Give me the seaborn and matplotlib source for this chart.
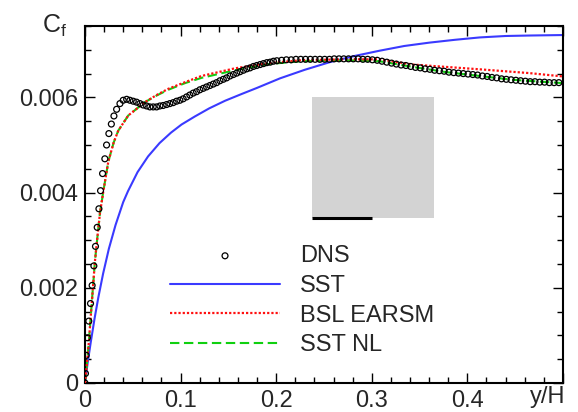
import matplotlib
matplotlib.use("Agg")
import matplotlib.pyplot as plt
import seaborn as sns
import pandas as pd
from matplotlib.patches import Rectangle
from matplotlib.ticker import MultipleLocator

# ---------------- data ----------------
dns_x = [0.0, 0.0005, 0.0012, 0.0025, 0.004, 0.0058, 0.0075, 0.0093, 0.011, 0.0128,
         0.0146, 0.0163, 0.0184, 0.0208, 0.0226, 0.0250, 0.0276, 0.0303, 0.0331,
         0.0366, 0.0400, 0.0436, 0.0470, 0.0505, 0.0540, 0.0575, 0.0609, 0.0645,
         0.0679, 0.0714, 0.0749, 0.0784, 0.0818, 0.0854, 0.0888, 0.0923, 0.0958,
         0.0993, 0.1027, 0.1063, 0.1097, 0.1132, 0.1167, 0.1202, 0.1237, 0.1272,
         0.1307, 0.1342, 0.1377, 0.1412, 0.1447, 0.1482, 0.1517, 0.1552, 0.1587,
         0.1622, 0.1657, 0.1692, 0.1727, 0.1762, 0.1797, 0.1832, 0.1867, 0.1902,
         0.1937, 0.1972, 0.2007, 0.2057, 0.2107, 0.2157, 0.2207, 0.2257, 0.2307,
         0.2357, 0.2407, 0.2457, 0.2507, 0.2557, 0.2607, 0.2657, 0.2707, 0.2757,
         0.2807, 0.2857, 0.2907, 0.2957, 0.3007, 0.3057, 0.3107, 0.3157, 0.3207,
         0.3257, 0.3307, 0.3357, 0.3407, 0.3457, 0.3507, 0.3557, 0.3607, 0.3657,
         0.3707, 0.3757, 0.3807, 0.3857, 0.3907, 0.3957, 0.4007, 0.4057, 0.4107,
         0.4157, 0.4207, 0.4257, 0.4307, 0.4357, 0.4407, 0.4457, 0.4507, 0.4557,
         0.4607, 0.4657, 0.4707, 0.4757, 0.4807, 0.4857, 0.4907, 0.4957]
dns_cf = [0.0, 0.0002, 0.00058, 0.00095, 0.0013, 0.00167, 0.00205, 0.00246, 0.00287, 0.00327,
          0.00366, 0.00404, 0.0044, 0.00471, 0.005, 0.00524, 0.00544, 0.00561, 0.00575,
          0.00587, 0.00594, 0.00596, 0.00594, 0.00592, 0.0059, 0.00587, 0.00584, 0.00582,
          0.0058, 0.0058, 0.0058, 0.00582, 0.00583, 0.00585, 0.00587, 0.00589, 0.00592,
          0.00594, 0.00597, 0.00601, 0.00605, 0.00609, 0.00612, 0.00616, 0.00619, 0.00622,
          0.00625, 0.00628, 0.00631, 0.00635, 0.00638, 0.00641, 0.00645, 0.00648, 0.00651,
          0.00654, 0.00657, 0.0066, 0.00662, 0.00665, 0.00667, 0.00669, 0.00671, 0.00673,
          0.00674, 0.00676, 0.00677, 0.00678, 0.00679, 0.00679, 0.0068, 0.0068, 0.0068,
          0.0068, 0.0068, 0.0068, 0.0068, 0.0068, 0.00681, 0.00681, 0.00681, 0.00681,
          0.00681, 0.00681, 0.0068, 0.0068, 0.00679, 0.00678, 0.00676, 0.00674, 0.00672,
          0.0067, 0.00668, 0.00667, 0.00665, 0.00663, 0.00662, 0.0066, 0.00659, 0.00657,
          0.00656, 0.00655, 0.00653, 0.00652, 0.00651, 0.0065, 0.00649, 0.00648, 0.00647,
          0.00645, 0.00644, 0.00642, 0.00641, 0.00639, 0.00638, 0.00637, 0.00636, 0.00635,
          0.00634, 0.00633, 0.00633, 0.00632, 0.00632, 0.00631, 0.00631, 0.00631]

sst_x = [0.0, 0.003, 0.006, 0.010, 0.014, 0.019, 0.025, 0.032, 0.040, 0.045, 0.055,
         0.066, 0.078, 0.090, 0.101, 0.115, 0.130, 0.1466, 0.1637, 0.180, 0.204,
         0.2299, 0.256, 0.282, 0.308, 0.334, 0.360, 0.387, 0.413, 0.440, 0.465, 0.500]
sst_cf = [0.0, 0.00045, 0.00085, 0.00135, 0.0018, 0.0023, 0.00282, 0.00332, 0.0038, 0.00403,
          0.00443, 0.00476, 0.00504, 0.00526, 0.00543, 0.0056, 0.00577, 0.00593, 0.00607,
          0.0062, 0.0064, 0.00658, 0.00674, 0.00687, 0.00698, 0.00708, 0.00715, 0.00721,
          0.00726, 0.00729, 0.0073, 0.00731]

bsl_x = [0.0, 0.002, 0.004, 0.007, 0.0104, 0.0137, 0.0157, 0.019, 0.0244, 0.03, 0.0348,
         0.0453, 0.0627, 0.075, 0.0871, 0.1047, 0.1219, 0.1567, 0.1916, 0.2264, 0.273,
         0.308, 0.343, 0.378, 0.413, 0.465, 0.5]
bsl_cf = [0.0, 0.0004, 0.00085, 0.00165, 0.00255, 0.0032, 0.00357, 0.004, 0.00465, 0.00505,
          0.0053, 0.00562, 0.0059, 0.00605, 0.00618, 0.00632, 0.00645, 0.00661, 0.00672,
          0.00678, 0.0068, 0.0068, 0.00669, 0.00664, 0.00659, 0.00651, 0.00644]

nl_x = [0.0, 0.002, 0.004, 0.007, 0.0104, 0.0137, 0.0157, 0.019, 0.0244, 0.03, 0.0348,
        0.0453, 0.0627, 0.075, 0.0871, 0.1047, 0.1219, 0.1567, 0.1916, 0.2264, 0.273,
        0.308, 0.343, 0.378, 0.413, 0.447, 0.5]
nl_cf = [0.0, 0.0004, 0.00085, 0.00165, 0.00255, 0.0032, 0.00357, 0.004, 0.00465, 0.00505,
         0.0053, 0.00562, 0.0059, 0.00604, 0.00616, 0.0063, 0.00641, 0.00657, 0.0067,
         0.00676, 0.00678, 0.00676, 0.00664, 0.00653, 0.00645, 0.00637, 0.0063]

x_ticks = [0, 0.1, 0.2, 0.3, 0.4, 0.5]
x_tick_labels = ["0", "0.1", "0.2", "0.3", "0.4", ""]
y_ticks = [0, 0.002, 0.004, 0.006]
y_tick_labels = ["0", "0.002", "0.004", "0.006"]

# ---------------- plotting ----------------
sns.set_style("ticks")
plt.rcParams["font.family"] = ["Liberation Sans", "DejaVu Sans"]
plt.rcParams["mathtext.fontset"] = "custom"
plt.rcParams["mathtext.rm"] = "Liberation Sans"

FS = 17

fig = plt.figure(figsize=(5.78, 4.12), dpi=100)
ax = fig.add_axes([0.147, 0.0704, 0.827, 0.8665])

df_dns = pd.DataFrame({"x": dns_x, "cf": dns_cf})
df_sst = pd.DataFrame({"x": sst_x, "cf": sst_cf})
df_bsl = pd.DataFrame({"x": bsl_x, "cf": bsl_cf})
df_nl = pd.DataFrame({"x": nl_x, "cf": nl_cf})

sns.scatterplot(data=df_dns, x="x", y="cf", ax=ax, marker="o", s=18,
                facecolors="none", edgecolor="black", linewidth=0.9,
                label="DNS", zorder=3)
sns.lineplot(data=df_sst, x="x", y="cf", ax=ax, sort=False, estimator=None,
             color="#3a3aff", lw=1.5, label="SST", zorder=2)
sns.lineplot(data=df_bsl, x="x", y="cf", ax=ax, sort=False, estimator=None,
             color="#ff1010", lw=1.6, dashes=(1.0, 0.9), label="BSL EARSM", zorder=2.6)
sns.lineplot(data=df_nl, x="x", y="cf", ax=ax, sort=False, estimator=None,
             color="#10d010", lw=1.5, dashes=(4.5, 2.2), label="SST NL", zorder=2.3)

ax.set_xlim(0, 0.5)
ax.set_ylim(0, 0.0075)
ax.set_xticks(x_ticks)
ax.set_xticklabels(x_tick_labels)
ax.set_yticks(y_ticks)
ax.set_yticklabels(y_tick_labels)
ax.xaxis.set_minor_locator(MultipleLocator(0.02))
ax.yaxis.set_minor_locator(MultipleLocator(0.0005))
ax.tick_params(which="both", direction="in", top=True, right=True,
               labelsize=FS, color="black", width=1.0)
ax.tick_params(which="major", length=7, pad=5)
ax.tick_params(which="minor", length=4)
ax.set_xlabel("")
ax.set_ylabel("")
for sp in ax.spines.values():
    sp.set_linewidth(1.5)
    sp.set_color("black")
    sp.set_visible(True)

# grey inset placeholder box with black scale bar
ax.add_patch(Rectangle((0.475, 0.462), 0.255, 0.339, transform=ax.transAxes,
                       facecolor="#d3d3d3", edgecolor="none", zorder=4))
ax.plot([0.475, 0.600], [0.462, 0.462], transform=ax.transAxes,
        color="black", lw=2.2, solid_capstyle="butt", zorder=5)

leg = ax.legend(loc="upper left", bbox_to_anchor=(170 / 578, 1 - 245 / 412),
                bbox_transform=fig.transFigure, frameon=False, fontsize=FS,
                handlelength=4.66, handletextpad=0.85, borderpad=0,
                borderaxespad=0, labelspacing=0.33, markerscale=1.0)

fig.text(42 / 578, 1 - 33 / 412, r"C$_{\mathregular{f}}$", fontsize=FS + 1,
         ha="left", va="baseline")
fig.text(565 / 578, 1 - 403 / 412, "y/H", fontsize=FS, ha="right", va="baseline")

fig.savefig("out.png", dpi=100)
